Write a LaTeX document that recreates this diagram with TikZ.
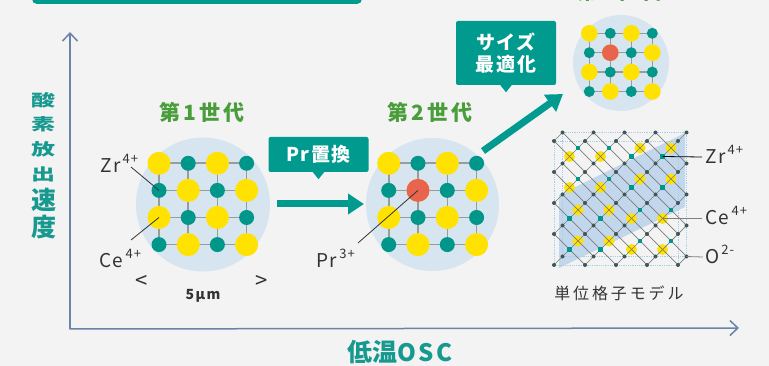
\documentclass[tikz,border=0pt]{standalone}
\usepackage{graphicx}
\usepackage{fontspec}
\setmainfont{Noto Sans CJK JP}
\usetikzlibrary{arrows.meta}

\definecolor{bggray}{HTML}{F3F3F3}
\definecolor{oscteal}{HTML}{009A8E}
\definecolor{labelteal}{HTML}{17998F}
\definecolor{gengreen}{HTML}{4A9D3B}
\definecolor{ceyellow}{HTML}{FFE200}
\definecolor{zrteal}{HTML}{00968A}
\definecolor{prred}{HTML}{E9644F}
\definecolor{grainblue}{HTML}{D7E5F1}
\definecolor{planeblue}{HTML}{C2D6EC}
\definecolor{axisblue}{HTML}{6A84A8}
\definecolor{oxgray}{HTML}{3F5556}
\definecolor{latgray}{HTML}{999C9C}
\definecolor{edgeblue}{HTML}{A8CDE4}
\definecolor{inkgray}{HTML}{333333}

% ion name with a raised charge
\newcommand{\ionlabel}[2]{#1\raisebox{.9ex}{\fontsize{13}{13}\selectfont\,#2}}
% vertically squeezed glyph for the axis title
\newcommand{\squashed}[1]{\scalebox{1}[.68]{#1}}

\begin{document}
\begin{tikzpicture}[x=1pt,y=-1pt,
  grain/.style={circle,fill=grainblue,inner sep=0pt,minimum size=#1},
  gridline/.style={draw=latgray,line width=1.6pt},
  ceion/.style={circle,fill=ceyellow,inner sep=0pt,minimum size=#1},
  zrion/.style={circle,fill=zrteal,inner sep=0pt,minimum size=#1},
  prion/.style={circle,fill=prred,inner sep=0pt,minimum size=#1},
  leader/.style={draw=inkgray,line width=0.8pt},
  ionname/.style={font=\fontsize{19}{20}\selectfont\addfontfeatures{LetterSpace=8},text=inkgray,inner sep=0pt},
  gentitle/.style={font=\bfseries\fontsize{21}{24}\selectfont\addfontfeatures{LetterSpace=14},text=gengreen},
  callout/.style={fill=oscteal,rounded corners=2pt,text=white,align=center,minimum width=100pt,
    font=\bfseries\fontsize{19}{22}\selectfont\addfontfeatures{LetterSpace=8}},
  bigarrow/.style={draw=oscteal,line width=7pt,-{Triangle[length=16pt,width=20pt]}},
  axis/.style={draw=axisblue,line width=1.5pt,-{Straight Barb[length=8pt,width=15pt]}},
  axislabel/.style={text=labelteal,align=center,inner sep=0pt},
  latline/.style={draw=latgray!80!black,line width=0.7pt},
  celledge/.style={draw=edgeblue,line width=0.8pt,densely dotted},
  oxion/.style={circle,fill=oxgray,inner sep=0pt,minimum size=4pt},
  zrsite/.style={rectangle,fill=zrteal,inner sep=0pt,minimum size=4.6pt},
  scalemark/.style={text=inkgray,font=\fontsize{22}{22}\selectfont}]

\useasboundingbox (0,0) rectangle (769,366);
\clip (0,0) rectangle (769,366);
\fill[bggray] (0,0) rectangle (769,366);

% banner running off the top edge
\fill[oscteal,rounded corners=5pt] (32,-30) rectangle (362,4);

% axes
\coordinate (origin) at (70,329);
\coordinate (ytip) at (70,32);
\coordinate (xtip) at (739,328);
\draw[axis] (origin) -- (ytip);
\draw[axis] ([xshift=-0.75pt]origin) -- (xtip);
\node[axislabel,font=\bfseries\fontsize{24}{24.7}\selectfont] (ylabA) at (43,137)
  {\squashed{酸}\\\squashed{素}\\\squashed{放}\\\squashed{出}};
\node[axislabel,font=\bfseries\fontsize{25}{27}\selectfont] (ylabB) at (44,214) {速\\度};
\node[axislabel,font=\bfseries\fontsize{25}{27}\selectfont,anchor=base] (xlab) at (400,361)
  {低温{\fontsize{24}{24}\selectfont\addfontfeatures{LetterSpace=10}OSC}};

% first generation
\node[grain=134pt] (grain1) at (203,204.5) {};
\foreach \r in {1,...,4} \foreach \c in {1,...,4}
  \coordinate (g1-\r-\c) at ({159+29.2*(\c-1)},{163.3+27.1*(\r-1)});
\foreach \k in {1,...,4} {
  \draw[gridline] (g1-\k-1) -- (g1-\k-4);
  \draw[gridline] (g1-1-\k) -- (g1-4-\k);
}
\foreach \r in {1,...,4} \foreach \c in {1,...,4} {
  \pgfmathtruncatemacro\odd{mod(\r+\c,2)}
  \ifnum\odd=0 \node[ceion=23pt] (ion1-\r-\c) at (g1-\r-\c) {};
  \else \node[zrion=15pt] (ion1-\r-\c) at (g1-\r-\c) {}; \fi
}
\node[gentitle] (gen1) at (202,112) {第1世代};
\node[ionname,anchor=base west] (zr1) at (100,173) {\ionlabel{Zr}{4+}};
\coordinate (zr1end) at (131,167);
\draw[leader] (zr1end) -- (g1-2-1);
\node[ionname,anchor=base west] (ce1) at (99,268) {\ionlabel{Ce}{4+}};
\coordinate (ce1end) at (131,240);
\draw[leader] (ce1end) -- (g1-3-1);
\node[scalemark] (scl) at (142,282) {<};
\node[scalemark] (scr) at (262,282) {>};
\node[text=inkgray,font=\bfseries\fontsize{14}{14}\selectfont\addfontfeatures{LetterSpace=10}] (sclen) at (203,296) {5μm};

% Pr substitution
\coordinate (a1start) at (277,204);
\coordinate (a1end) at (364,204);
\draw[bigarrow] (a1start) -- (a1end);
\node[callout,minimum height=35pt] (prbox) at (318.5,154.5) {Pr置換};
\fill[oscteal] ([xshift=-6pt,yshift=0.5pt]prbox.south) -- ([xshift=6pt,yshift=0.5pt]prbox.south)
  -- ([yshift=-7pt]prbox.south) -- cycle;

% second generation
\node[grain=133pt] (grain2) at (432.5,204.5) {};
\foreach \r in {1,...,4} \foreach \c in {1,...,4}
  \coordinate (g2-\r-\c) at ({388.7+29.3*(\c-1)},{163.3+27.1*(\r-1)});
\foreach \k in {1,...,4} {
  \draw[gridline] (g2-\k-1) -- (g2-\k-4);
  \draw[gridline] (g2-1-\k) -- (g2-4-\k);
}
\foreach \r in {1,...,4} \foreach \c in {1,...,4} {
  \pgfmathtruncatemacro\odd{mod(\r+\c,2)}
  \ifnum\odd=0 \node[ceion=23pt] (ion2-\r-\c) at (g2-\r-\c) {};
  \else \node[zrion=15pt] (ion2-\r-\c) at (g2-\r-\c) {}; \fi
}
\node[prion=23pt] (pr2ion) at (g2-2-2) {};
\node[gentitle] (gen2) at (430,112) {第2世代};
\node[ionname,anchor=base west] (pr2) at (316,268) {\ionlabel{Pr}{3+}};
\coordinate (pr2end) at (358,243);
\draw[leader] (pr2end) -- (g2-2-2);

% size optimisation
\coordinate (a2start) at (483,151);
\coordinate (a2end) at (563,94);
\draw[bigarrow] (a2start) -- (a2end);
\node[callout,minimum height=64pt] (sizebox) at (506,53) {サイズ\\最適化};
\fill[oscteal] ([xshift=-6pt,yshift=0.5pt]sizebox.south) -- ([xshift=6pt,yshift=0.5pt]sizebox.south)
  -- ([yshift=-7pt]sizebox.south) -- cycle;

% third generation
\node[grain=96pt] (grain3) at (621,63) {};
\foreach \r in {1,...,4} \foreach \c in {1,...,4}
  \coordinate (g3-\r-\c) at ({589.3+21*(\c-1)},{33.3+19.4*(\r-1)});
\foreach \k in {1,...,4} {
  \draw[gridline,line width=1.3pt] (g3-\k-1) -- (g3-\k-4);
  \draw[gridline,line width=1.3pt] (g3-1-\k) -- (g3-4-\k);
}
\foreach \r in {1,...,4} \foreach \c in {1,...,4} {
  \pgfmathtruncatemacro\odd{mod(\r+\c,2)}
  \ifnum\odd=0 \node[ceion=16.6pt] (ion3-\r-\c) at (g3-\r-\c) {};
  \else \node[zrion=11pt] (ion3-\r-\c) at (g3-\r-\c) {}; \fi
}
\node[prion=16.6pt] (pr3ion) at (g3-2-2) {};
\node[gentitle] (gen3) at (620,-9) {第3世代};

% unit cell: O sites on front and back faces, cation sites between
\foreach \i in {0,...,4} \foreach \j in {0,...,4} {
  \coordinate (f-\i-\j) at ({554+31*\i},{141+31*\j});
  \coordinate (b-\i-\j) at ({562.5+31*\i},{132.5+31*\j});
}
\foreach \i in {0,...,3} \foreach \j in {0,...,3} {
  \coordinate (c-\i-\j) at ({569.5+31*\i},{156.5+31*\j});
  \coordinate (d-\i-\j) at ({578+31*\i},{148+31*\j});
}
\fill[planeblue] (559,195) -- (685,133) -- (685,207) -- (559,268) -- cycle;
\draw[celledge] (f-0-0) rectangle (f-4-4);
\draw[celledge] (b-0-0) rectangle (b-4-4);
\foreach \i in {0,...,3} \foreach \j in {0,...,3} {
  \pgfmathtruncatemacro\front{(\i<2)==(\j<2)}
  \ifnum\front=1 \node[ceion=11pt] (cec-\i-\j) at (c-\i-\j) {};
  \else \node[ceion=11pt] (cec-\i-\j) at (d-\i-\j) {}; \fi
}
\foreach \i in {0,...,3} \foreach \j in {0,...,3} {
  \pgfmathtruncatemacro\ni{\i+1}
  \pgfmathtruncatemacro\nj{\j+1}
  \draw[latline] (f-\i-\j) -- (f-\ni-\nj);
  \draw[latline] (b-\i-\j) -- (b-\ni-\nj);
}
\foreach \i in {0,...,4} \foreach \j in {0,...,4}
  \draw[latline] (f-\i-\j) -- (b-\i-\j);
\foreach \i in {0,...,3} \foreach \j in {1,...,4} {
  \pgfmathtruncatemacro\ni{\i+1}
  \pgfmathtruncatemacro\pj{\j-1}
  \draw[latline] (b-\i-\j) -- (f-\ni-\pj);
}
\foreach \i in {0,...,3} \foreach \j in {0,...,3} {
  \pgfmathtruncatemacro\front{(\i<2)==(\j<2)}
  \ifnum\front=1 \node[zrsite] (zrc-\i-\j) at (d-\i-\j) {};
  \else \node[zrsite] (zrc-\i-\j) at (c-\i-\j) {}; \fi
}
\foreach \i in {0,...,4} \foreach \j in {0,...,4} {
  \node[oxion] (of-\i-\j) at (f-\i-\j) {};
  \node[oxion] (ob-\i-\j) at (b-\i-\j) {};
}
\node[ionname,anchor=base west] (zr3) at (705,164) {\ionlabel{Zr}{4+}};
\coordinate (zr3end) at (702,157);
\draw[leader,draw=black] (c-3-0) -- (zr3end);
\node[ionname,anchor=base west] (ce3) at (705,225) {\ionlabel{Ce}{4+}};
\coordinate (ce3end) at (702,218.5);
\draw[leader,draw=gray] (c-3-2) -- (ce3end);
\node[ionname,anchor=base west] (o3) at (705,264) {\ionlabel{O}{2-}};
\coordinate (o3end) at (703,257);
\draw[leader,draw=gray] (b-4-4) -- (o3end);
\node[text=inkgray,font=\fontsize{16}{16}\selectfont\addfontfeatures{LetterSpace=18}] (cellcap) at (619,293) {単位格子モデル};

\end{tikzpicture}
\end{document}
